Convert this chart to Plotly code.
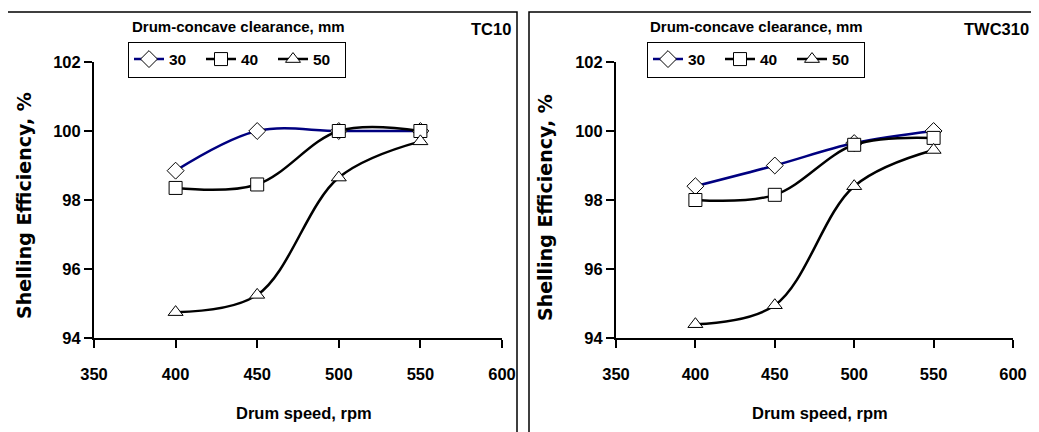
import plotly.graph_objects as go

# browser body margin (8px) is compensated by shifting the layout
OFF = 8
W, H = 1039 - OFF, 432 - OFF

speeds = [400, 450, 500, 550]
clearances = ["30", "40", "50"]

tc10_30 = [98.85, 100.0, 100.0, 100.0]
tc10_40 = [98.35, 98.45, 100.0, 100.0]
tc10_50 = [94.75, 95.25, 98.65, 99.7]

twc310_30 = [98.4, 99.0, 99.65, 100.0]
twc310_40 = [98.0, 98.15, 99.6, 99.8]
twc310_50 = [94.4, 94.95, 98.4, 99.45]

x_ticks = [350, 400, 450, 500, 550, 600]
y_ticks = [94, 96, 98, 100, 102]

panels = ["TC10", "TWC310"]

FONT = "Liberation Sans, Arial, sans-serif"
WIDE = "DejaVu Sans, Verdana, sans-serif"

line_colors = ["#000080", "#000000", "#000000"]
symbols = ["diamond", "square", "triangle-up"]


def px(x):
    return (x - OFF) / W


def py(y):
    return 1 - (y - OFF) / H


fig = go.Figure()

series_sets = [[tc10_30, tc10_40, tc10_50], [twc310_30, twc310_40, twc310_50]]
for p, sets in enumerate(series_sets):
    for i, vals in enumerate(sets):
        fig.add_trace(go.Scatter(
            x=speeds, y=vals, name=clearances[i],
            mode="lines+markers",
            line=dict(color=line_colors[i], width=2.5, shape="spline", smoothing=1.0),
            marker=dict(symbol=symbols[i], size=13, color="white",
                        line=dict(color="black", width=1)),
            xaxis="x" if p == 0 else "x2",
            yaxis="y" if p == 0 else "y2",
            legend="legend" if p == 0 else "legend2",
            showlegend=True,
        ))

axis_common = dict(
    showline=True, linecolor="black", linewidth=2,
    ticks="outside", ticklen=8, tickwidth=2, tickcolor="black",
    showgrid=False, zeroline=False, automargin=False,
    tickfont=dict(family=FONT, size=16.5, color="black", weight="bold"),
)

ydom = [py(338), py(62)]
legend_common = dict(orientation="h", yanchor="middle", xanchor="left",
                     bordercolor="black", borderwidth=1, bgcolor="white",
                     entrywidth=27, entrywidthmode="pixels",
                     font=dict(family=FONT, size=15.5, color="black", weight="bold"))
fig.update_layout(
    width=W, height=H,
    template="none",
    margin=dict(l=0, r=0, t=0, b=0),
    paper_bgcolor="white", plot_bgcolor="white",
    xaxis=dict(domain=[px(94), px(502)], range=[350, 600], tickvals=x_ticks,
               anchor="y", ticklabelstandoff=12, **axis_common),
    yaxis=dict(domain=ydom, range=[94, 102], tickvals=y_ticks,
               anchor="x", ticklabelstandoff=0, **axis_common),
    xaxis2=dict(domain=[px(616), px(1013)], range=[350, 600], tickvals=x_ticks,
                anchor="y2", ticklabelstandoff=12, **axis_common),
    yaxis2=dict(domain=ydom, range=[94, 102], tickvals=y_ticks,
                anchor="x2", ticklabelstandoff=0, **axis_common),
    legend=dict(x=px(128), y=py(59.5), **legend_common),
    legend2=dict(x=px(647), y=py(59.5), **legend_common),
    showlegend=True,
)

# panel frames
fig.add_shape(type="rect", xref="paper", yref="paper",
              x0=px(7), x1=px(517), y0=-0.1, y1=py(12),
              line=dict(color="black", width=1.5), fillcolor="rgba(0,0,0,0)", layer="below")
fig.add_shape(type="rect", xref="paper", yref="paper",
              x0=px(529), x1=px(1060), y0=-0.1, y1=py(12),
              line=dict(color="black", width=1.5), fillcolor="rgba(0,0,0,0)", layer="below")

ann = []
for cx, lx in [(238, 304), (756, 820)]:
    ann.append(dict(text="Drum-concave clearance, mm", x=px(cx), y=py(27), xref="paper", yref="paper",
                    showarrow=False, xanchor="center", yanchor="middle",
                    font=dict(family=FONT, size=15, color="black", weight="bold")))
    ann.append(dict(text="Drum speed, rpm", x=px(lx), y=py(413), xref="paper", yref="paper",
                    showarrow=False, xanchor="center", yanchor="middle",
                    font=dict(family=FONT, size=16.5, color="black", weight="bold")))
ann.append(dict(text=panels[0], x=px(513), y=py(29), xref="paper", yref="paper",
                showarrow=False, xanchor="right", yanchor="middle",
                font=dict(family=FONT, size=16.5, color="black", weight="bold")))
ann.append(dict(text=panels[1], x=px(1031), y=py(29), xref="paper", yref="paper",
                showarrow=False, xanchor="right", yanchor="middle",
                font=dict(family=FONT, size=16.5, color="black", weight="bold")))
for cx, cy in [(24, 206), (545, 208)]:
    ann.append(dict(text="Shelling Efficiency, %", x=px(cx), y=py(cy), xref="paper", yref="paper",
                    showarrow=False, xanchor="center", yanchor="middle", textangle=-90,
                    font=dict(family=WIDE, size=19, color="black", weight="bold")))
fig.update_layout(annotations=ann)

fig.write_html("out.html")
